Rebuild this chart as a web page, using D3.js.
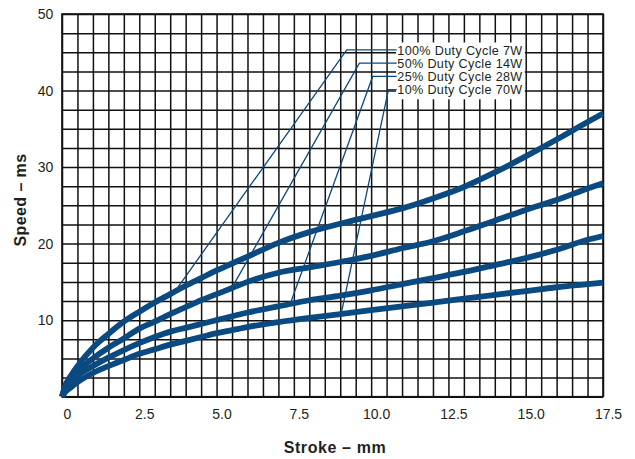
<!DOCTYPE html>
<html><head><meta charset="utf-8">
<script src="https://cdn.jsdelivr.net/npm/d3@7"></script>
<style>
html,body{margin:0;padding:0;background:#fff;}
svg{display:block;font-family:"Liberation Sans",Arial,Helvetica,sans-serif;}
</style>
</head><body>
<svg id="chart" width="635" height="459"></svg>
<script>
// ---- data ----
const strokeMm = [0,0.1,0.25,0.5,1,1.5,2,2.5,3,3.5,4,4.5,5,5.5,6,7,8,9,10,11,12,13,14,15,16,17,17.5];
const duty100 = [0,1.4,2.5,4.0,6.4,8.2,9.8,11.1,12.3,13.4,14.5,15.5,16.5,17.4,18.3,20.1,21.5,22.6,23.6,24.6,25.9,27.4,29.3,31.4,33.6,35.9,37.0];
const duty50  = [0,1.2,2.1,3.3,5.0,6.4,7.6,8.9,9.8,10.8,11.7,12.6,13.4,14.2,15.0,16.2,16.9,17.6,18.4,19.4,20.3,21.6,23.0,24.4,25.7,27.2,27.9];
const duty25  = [0,0.9,1.6,2.7,4.0,5.1,6.1,7.0,7.8,8.5,9.0,9.5,10.0,10.5,11.0,11.8,12.6,13.2,13.9,14.7,15.5,16.3,17.2,18.1,19.2,20.5,21.0];
const duty10  = [0,0.6,1.1,1.9,3.1,4.0,4.8,5.6,6.2,6.8,7.3,7.8,8.3,8.7,9.1,9.75,10.3,10.8,11.3,11.8,12.3,12.8,13.3,13.8,14.3,14.7,14.9];
const seriesLabels = ["100% Duty Cycle 7W","50% Duty Cycle 14W","25% Duty Cycle 28W","10% Duty Cycle 70W"];
// stroke (mm) on each curve where its label leader touches it
const leaderAnchorMm = [3.65, 5.49, 7.38, 9.03];
const xTickLabels = [0,2.5,5,7.5,10,12.5,15,17.5];
const yTickLabels = [10,20,30,40,50];
const xTitle = "Stroke – mm";
const yTitle = "Speed – ms";

// ---- layout ----
const W = 635, H = 459;
const m = {left:62, top:14, right:32, bottom:62.3};
const pw = W - m.left - m.right, ph = H - m.top - m.bottom;
const blue = "#0b4a80", ink = "#231f20", gridCol = "#111";
// leader elbow positions (in data units) for the label rows
const elbowMm = [9.21, 9.62, 10.05, 10.56];

const svg = d3.select("#chart");
const g = svg.append("g").attr("transform", `translate(${m.left},${m.top})`);
const x = d3.scaleLinear().domain([0,17.5]).range([0,pw]);
const y = d3.scaleLinear().domain([0,50]).range([ph,0]);

// grid
const gx = g.append("g").attr("transform", `translate(0,${ph})`)
  .call(d3.axisBottom(x).tickValues(d3.range(0,17.5001,0.5)).tickSize(-ph).tickFormat(""));
const gy = g.append("g")
  .call(d3.axisLeft(y).tickValues(d3.range(0,50.001,2.5)).tickSize(-pw).tickFormat(""));
[gx,gy].forEach(a=>{a.select(".domain").remove(); a.selectAll("line").attr("stroke",gridCol).attr("stroke-width",1.5);});
g.append("rect").attr("width",pw).attr("height",ph).attr("fill","none").attr("stroke",gridCol).attr("stroke-width",1.6);

// tick labels
const ax = g.append("g").attr("transform",`translate(0,${ph})`)
  .call(d3.axisBottom(x).tickValues(xTickLabels).tickSize(0).tickPadding(12)
    .tickFormat(d=> d===0 ? "0" : d3.format(".1f")(d)));
ax.select(".domain").remove();
ax.selectAll("text").attr("dx",5).attr("font-size",14).attr("fill",ink).attr("font-family",null);
const ay = g.append("g")
  .call(d3.axisLeft(y).tickValues(yTickLabels).tickSize(0).tickPadding(8.7));
ay.select(".domain").remove();
ay.selectAll("text").attr("font-size",14).attr("fill",ink).attr("font-family",null);

// axis titles
svg.append("text").attr("x", m.left + pw/2 + 2.5).attr("y", 453.3)
  .attr("text-anchor","middle").attr("font-weight","bold").attr("font-size",16)
  .attr("letter-spacing",0.6).attr("fill",ink).text(xTitle);
svg.append("text").attr("transform","translate(26,200) rotate(-90)")
  .attr("text-anchor","middle").attr("font-weight","bold").attr("font-size",16)
  .attr("letter-spacing",0.4).attr("fill",ink).text(yTitle);

// legend labels with white background
const series = [duty100, duty50, duty25, duty10];
const leg = svg.append("g");
const legBg = leg.append("rect").attr("fill","#fff");
const rowBase = 54.5, rowStep = 13.27, textX = 397.3;
leg.selectAll("text.lab").data(seriesLabels).join("text")
  .attr("class","lab").attr("x",textX).attr("y",(d,i)=>rowBase+i*rowStep)
  .attr("font-size",12.6).attr("letter-spacing",0.35).attr("fill",ink).text(d=>d);
const bb = leg.node().getBBox();
legBg.attr("x",bb.x-1.3).attr("y",bb.y-1).attr("width",bb.width+3.5).attr("height",bb.height+3);

// leaders
function valueAt(vals, mm){
  const i = d3.bisectRight(strokeMm, mm) - 1;
  const t = (mm - strokeMm[i])/(strokeMm[i+1]-strokeMm[i]);
  return vals[i] + t*(vals[i+1]-vals[i]);
}
const leaders = svg.append("g").attr("fill","none").attr("stroke",blue).attr("stroke-width",1.3);
series.forEach((vals,i)=>{
  const ly = rowBase + i*rowStep - 4.6;
  const ex = m.left + x(elbowMm[i]);
  const ax_ = m.left + x(leaderAnchorMm[i]);
  const ay_ = m.top + y(valueAt(vals, leaderAnchorMm[i]));
  leaders.append("path").attr("d", `M${textX-0.6},${ly}H${ex}L${ax_},${ay_}`);
});

// curves
const line = d3.line().x((d,i)=>x(strokeMm[i])).y(d=>y(d)).curve(d3.curveMonotoneX);
g.selectAll("path.curve").data(series).join("path").attr("class","curve")
  .attr("d", d=>line(d)).attr("fill","none").attr("stroke",blue).attr("stroke-width",5.8)
  .attr("stroke-linejoin","round");
</script>
</body></html>
